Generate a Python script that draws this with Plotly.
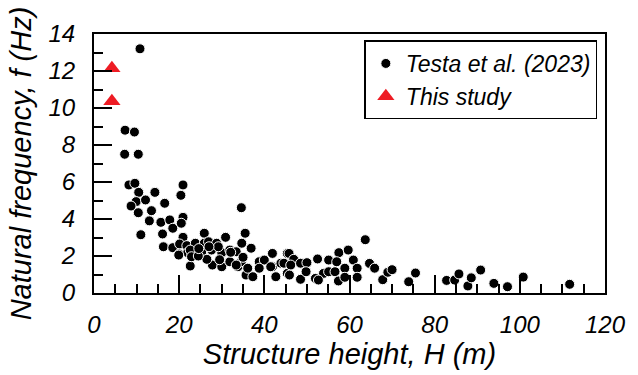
import plotly.graph_objects as go

# Testa et al. (2023): structure height H (m) and natural frequency f (Hz)
testa_h = [
    10.8, 7.3, 9.5, 7.2, 10.4, 8.2, 9.6, 10.5, 14.3, 20.9, 20.4,
    9.9, 12.1, 8.7, 16.6, 10.4, 13.5, 13.0, 15.7, 17.8, 20.9,
    18.5, 20.5, 16.1, 11.0, 20.9, 16.3, 18.5, 20.1, 21.8,
    20.0, 22.0, 23.0, 22.6, 19.9,
    34.6, 25.9, 30.9, 35.5, 34.7, 23.8, 22.6, 22.9,
    25.9, 25.3, 27.6, 26.9, 28.8, 30.0, 29.2, 27.8, 30.0,
    31.9, 33.4, 36.9, 31.9, 33.8, 34.6, 35.7, 37.3, 36.1,
    38.8, 40.0, 41.9, 41.9, 42.7, 43.9, 45.4,
    26.5, 35.0, 24.5, 32.1, 33.4, 38.8, 41.5, 45.4, 27.0, 24.6, 29.5,
    45.8, 46.9, 44.6, 46.2, 48.5, 50.0,
    45.9, 48.5, 49.8, 52.0, 53.9, 52.7,
    52.5, 55.1, 55.1, 56.6,
    57.5, 57.0, 59.7, 60.9, 58.9, 61.8,
    57.4, 58.9, 61.8,
    63.7, 64.7, 65.9, 67.8, 69.0, 70.0,
    75.5, 73.9,
    82.8, 84.7, 85.7, 87.8, 88.6,
    90.8, 93.9, 97.1, 100.8, 111.7,
]
testa_f = [
    13.2, 8.8, 8.7, 7.5, 7.5, 5.84, 5.93, 5.44, 5.44, 5.84, 5.28,
    4.94, 5.03, 4.70, 4.85, 4.34, 4.45, 3.90, 3.82, 3.95, 4.09,
    3.50, 3.77, 3.19, 3.15, 3.01, 2.50, 2.45, 2.65, 2.56,
    2.11, 2.18, 2.11, 1.46, 2.05,
    4.61, 3.23, 3.01, 3.23, 2.69, 2.69, 2.32, 1.96,
    2.69, 2.23, 2.32, 2.77, 2.69, 2.18, 2.50, 1.51, 1.42,
    2.32, 2.23, 2.42, 1.69, 1.42, 1.69, 0.97, 0.88, 1.34,
    1.69, 1.78, 2.14, 1.42, 0.88, 1.61, 2.14,
    1.82, 1.93, 2.00, 2.20, 1.51, 1.34, 1.42, 1.06, 2.50, 2.40, 1.80,
    2.14, 1.82, 1.61, 1.51, 1.61, 1.64,
    0.97, 0.74, 1.15, 0.79, 1.06, 0.70,
    1.84, 1.78, 1.15, 1.15,
    2.18, 1.69, 2.32, 1.78, 1.34, 1.34,
    0.65, 0.85, 0.85,
    2.88, 1.60, 1.34, 0.72, 1.12, 1.26,
    1.08, 0.61,
    0.68, 0.70, 1.03, 0.38, 0.82,
    1.24, 0.52, 0.34, 0.86, 0.47,
]

# This study
study_h = [4.2, 4.2]
study_f = [12.15, 10.37]

font_family = "Liberation Sans, Arial, sans-serif"

fig = go.Figure()
fig.add_trace(go.Scatter(
    x=testa_h, y=testa_f, mode="markers", name="Testa et al. (2023)",
    marker=dict(symbol="circle", size=10, color="black",
                line=dict(color="white", width=1)),
))
fig.add_trace(go.Scatter(
    x=study_h, y=study_f, mode="markers", name="This study",
    marker=dict(symbol="triangle-up", size=15, color="#ee1c24",
                line=dict(width=0)),
))

axis_common = dict(
    showline=True, linecolor="black", linewidth=2, mirror=True,
    ticks="inside", ticklen=18, tickwidth=2, tickcolor="black",
    showgrid=False, zeroline=False,
    tickfont=dict(family=font_family, size=24, color="black", style="italic"),
)

fig.update_xaxes(
    range=[0, 120], dtick=20, tick0=0,
    minor=dict(ticks="inside", dtick=5, ticklen=9, tickwidth=2, tickcolor="black"),
    title=dict(text="Structure height, H (m)", standoff=4,
               font=dict(family=font_family, size=29, color="black", style="italic")),
    ticklabelstandoff=9,
    **axis_common,
)
fig.update_yaxes(
    range=[0, 14], dtick=2, tick0=0,
    minor=dict(ticks="inside", dtick=1, ticklen=9, tickwidth=2, tickcolor="black"),
    title=dict(text="Natural frequency, f (Hz)", standoff=8,
               font=dict(family=font_family, size=29, color="black", style="italic")),
    ticklabelstandoff=12,
    **axis_common,
)

fig.update_layout(
    width=638, height=375,
    margin=dict(l=94, r=26, t=34, b=82),
    paper_bgcolor="white", plot_bgcolor="white",
    showlegend=True,
    legend=dict(
        x=0.985, y=0.975, xanchor="right", yanchor="top",
        bordercolor="black", borderwidth=1.5, bgcolor="white",
        font=dict(family=font_family, size=23, color="black", style="italic"),
        itemwidth=30, tracegroupgap=0,
    ),
)

fig.write_html("out.html")
